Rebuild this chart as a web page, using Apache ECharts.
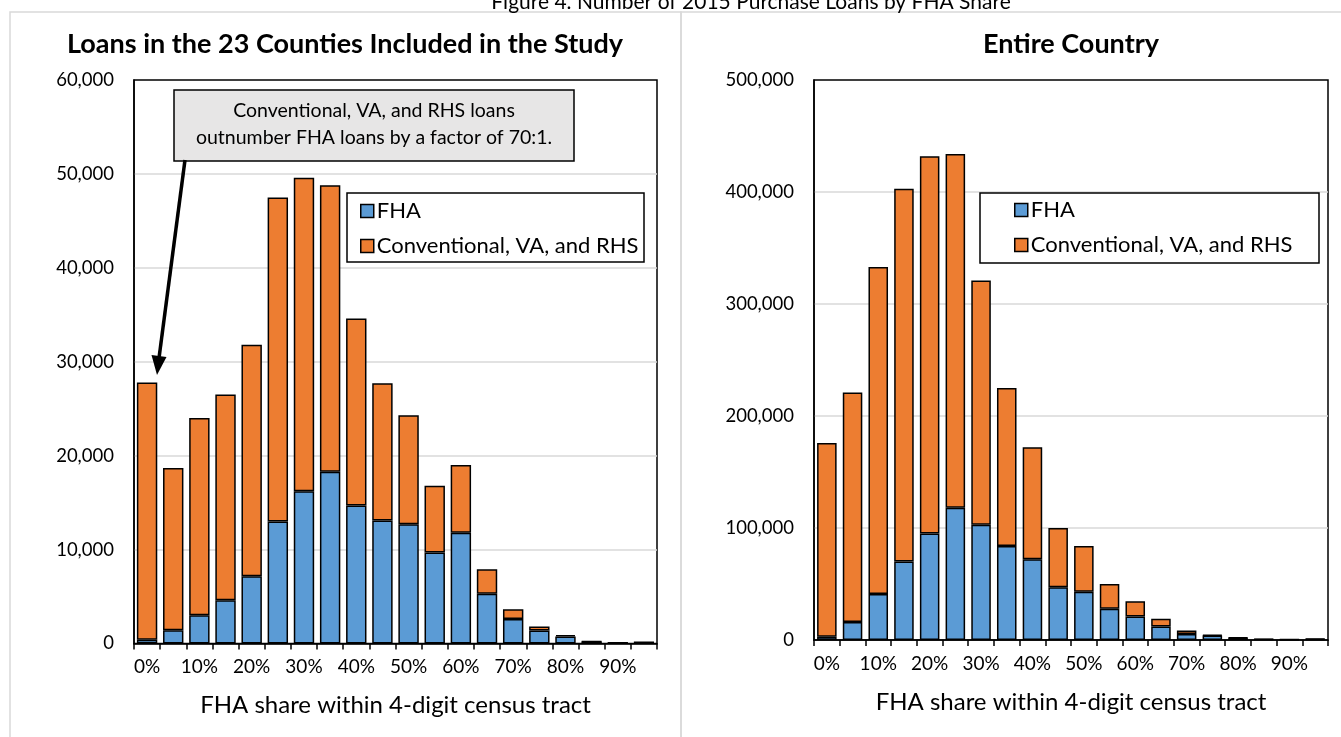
<!DOCTYPE html>
<html><head><meta charset="utf-8">
<script src="https://cdn.jsdelivr.net/npm/echarts@6/dist/echarts.min.js"></script>
<style>html,body{margin:0;padding:0;background:#fff}#c{width:1341px;height:737px}</style>
</head><body><div id="c"></div>
<script>
const categories = ['0%','5%','10%','15%','20%','25%','30%','35%','40%','45%','50%','55%','60%','65%','70%','75%','80%','85%','90%','95%'];
const seriesNames = ['FHA', 'Conventional, VA, and RHS'];
// Loans in the 23 counties included in the study
const studyFHA   = [400, 1400, 3000, 4600, 7150, 13000, 16200, 18300, 14700, 13100, 12700, 9700, 11800, 5300, 2600, 1380, 750, 200, 80, 120];
const studyOther = [27400, 17300, 21000, 21900, 24650, 34500, 33400, 30500, 19900, 14600, 11600, 7100, 7200, 2600, 1050, 420, 150, 50, 20, 30];
// Entire country
const countryFHA   = [3000, 16000, 41000, 70000, 95000, 118000, 103000, 84000, 72000, 47000, 43000, 28000, 21000, 12000, 5400, 4000, 1800, 700, 300, 800];
const countryOther = [173000, 205000, 292000, 333000, 337000, 316000, 218000, 141000, 100000, 53000, 41000, 22000, 13500, 7000, 3100, 500, 200, 100, 100, 200];
const studyYTicks = [0, 10000, 20000, 30000, 40000, 50000, 60000];
const countryYTicks = [0, 100000, 200000, 300000, 400000, 500000];
const figureTitle = 'Figure 4. Number of 2015 Purchase Loans by FHA Share';
const panelTitles = ['Loans in the 23 Counties Included in the Study', 'Entire Country'];
const xAxisTitle = 'FHA share within 4-digit census tract';
const noteLines = ['Conventional, VA, and RHS loans', 'outnumber FHA loans by a factor of 70:1.'];

const FONT = 'Lato, "Open Sans", sans-serif';
const BLUE = '#5B9BD5', ORANGE = '#ED7D31';
const chart = echarts.init(document.getElementById('c'), null, {renderer: 'canvas'});

function xAxis(gi) {
  return {
    type: 'category', gridIndex: gi, data: categories,
    axisLine: {lineStyle: {color: '#000', width: 1.5}},
    axisTick: {show: true, interval: 0, length: 6, lineStyle: {color: '#000', width: 1.5}},
    axisLabel: {interval: 1, margin: 14, fontSize: 19, color: '#000', fontFamily: FONT},
    name: xAxisTitle, nameLocation: 'middle', nameGap: 50,
    nameTextStyle: {fontSize: 24, color: '#000', fontFamily: FONT}
  };
}
function yAxis(gi, ticks) {
  return {
    type: 'value', gridIndex: gi, min: ticks[0], max: ticks[ticks.length - 1],
    interval: ticks[1] - ticks[0],
    axisLine: {show: true, lineStyle: {color: '#000', width: 1.5}},
    axisTick: {show: false},
    splitLine: {show: true, showMinLine: false, showMaxLine: false, lineStyle: {color: '#d9d9d9', width: 1.5}},
    axisLabel: {margin: 20, fontSize: 18.5, color: '#000', fontFamily: FONT,
      formatter: v => v.toLocaleString('en-US')}
  };
}
function bar(name, gi, data, color, width) {
  return {
    name: name, type: 'bar', stack: 'g' + gi, xAxisIndex: gi, yAxisIndex: gi,
    data: data, barWidth: width,
    itemStyle: {color: color, borderColor: '#000', borderWidth: 1.5},
    emphasis: {disabled: true}
  };
}
function legend(left, top) {
  return {
    orient: 'vertical', left: left, top: top, z: 20, padding: 0,
    itemWidth: 13, itemHeight: 13, itemGap: 13, icon: 'rect',
    itemStyle: {borderColor: '#000', borderWidth: 1.5},
    textStyle: {fontSize: 22, color: '#000', fontFamily: FONT, lineHeight: 22, padding: [0, 0, 0, -2]},
    data: seriesNames
  };
}
const txt = (x, y, s, size, weight) => ({
  type: 'text', x: x, y: y, z: 30,
  style: {text: s, fontSize: size, fontWeight: weight || 'normal', fontFamily: FONT, fill: '#000',
    textAlign: 'center', textVerticalAlign: 'middle'}
});

const option = {
  backgroundColor: '#fff',
  animation: false,
  grid: [
    {left: 134, top: 80, width: 523, bottom: 93.5, show: true, borderColor: '#000', borderWidth: 1.5, containLabel: false},
    {left: 814, top: 80, width: 514, bottom: 97, show: true, borderColor: '#000', borderWidth: 1.5, containLabel: false}
  ],
  xAxis: [xAxis(0), xAxis(1)],
  yAxis: [yAxis(0, studyYTicks), yAxis(1, countryYTicks)],
  legend: [legend(360, 200), legend(1014, 199)],
  series: [
    bar(seriesNames[0], 0, studyFHA, BLUE, '78%'),
    bar(seriesNames[1], 0, studyOther, ORANGE, '78%'),
    bar(seriesNames[0], 1, countryFHA, BLUE, '76%'),
    bar(seriesNames[1], 1, countryOther, ORANGE, '76%')
  ],
  graphic: [
    {type: 'rect', z: -10, shape: {x: 10, y: 12, width: 671, height: 760}, style: {fill: 'none', stroke: '#d9d9d9', lineWidth: 1.5}},
    {type: 'rect', z: -10, shape: {x: 681, y: 12, width: 700, height: 760}, style: {fill: 'none', stroke: '#d9d9d9', lineWidth: 1.5}},
    txt(751, 2, figureTitle, 21),
    txt(345, 44, panelTitles[0], 27, 'bold'),
    txt(1071, 44, panelTitles[1], 27, 'bold'),
    // legend boxes
    {type: 'rect', z: 10, shape: {x: 347, y: 193, width: 297, height: 69}, style: {fill: '#fff', stroke: '#000', lineWidth: 1.5}},
    {type: 'rect', z: 10, shape: {x: 980, y: 193, width: 339, height: 70}, style: {fill: '#fff', stroke: '#000', lineWidth: 1.5}},
    // annotation
    {type: 'rect', z: 25, shape: {x: 174, y: 90, width: 400, height: 71}, style: {fill: '#e7e6e6', stroke: '#000', lineWidth: 1.5}},
    txt(374, 111, noteLines[0], 19.5),
    txt(374, 138, noteLines[1], 19.5),
    {type: 'line', z: 25, shape: {x1: 185, y1: 160, x2: 159, y2: 358}, style: {stroke: '#000', lineWidth: 3.5}},
    {type: 'polygon', z: 25, shape: {points: [[157, 375], [166.5, 357], [151.5, 355]]}, style: {fill: '#000'}}
  ]
};
chart.setOption(option);
</script></body></html>
